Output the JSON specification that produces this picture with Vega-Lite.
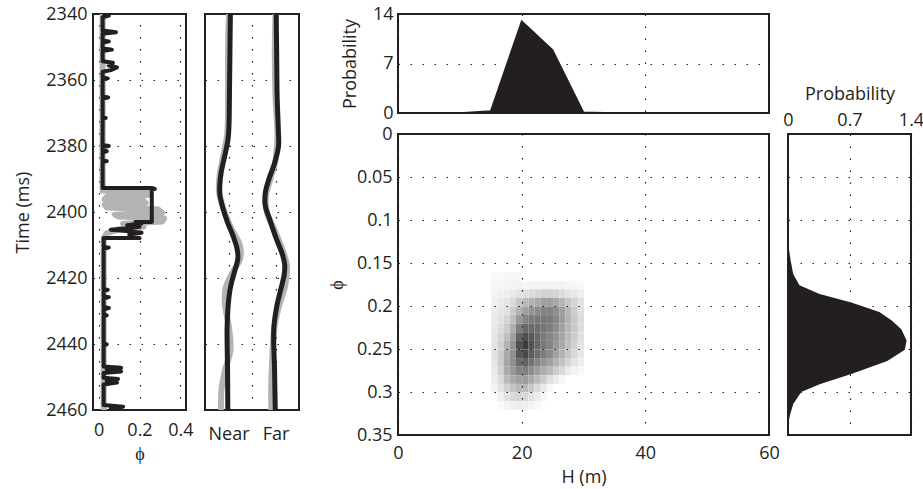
{
  "$schema": "https://vega.github.io/schema/vega-lite/v6.json",
  "padding": {"left": 13, "top": 4, "right": 14, "bottom": 0},
  "background": "white",
  "bounds": "flush",
  "spacing": 19,
  "config": {
    "font": "Open Sans",
    "view": {"stroke": "#231f20", "strokeWidth": 2},
    "axis": {
      "labelFont": "Open Sans", "labelFontSize": 18, "labelColor": "#231f20",
      "titleFont": "Open Sans", "titleFontSize": 18, "titleFontWeight": "normal", "titleColor": "#231f20",
      "domain": false, "ticks": false, "grid": true,
      "gridDash": [1.5, 10.5], "gridColor": "#231f20", "gridWidth": 1.2, "gridOpacity": 1,
      "labelFlush": false, "labelOverlap": false, "labelPadding": 6
    }
  },
  "hconcat": [
    {
      "width": 93, "height": 396,
      "layer": [
        {
          "data": {"values": [
            {"i":1,"t":2340,"phi":0.02},{"i":2,"t":2393.5,"phi":0.02},{"i":3,"t":2394,"phi":0.24},{"i":4,"t":2394.8,"phi":0.25},
            {"i":5,"t":2395.4,"phi":0.04},{"i":6,"t":2396.2,"phi":0.03},{"i":7,"t":2396.6,"phi":0.22},{"i":8,"t":2397.3,"phi":0.23},
            {"i":9,"t":2397.8,"phi":0.03},{"i":10,"t":2398.6,"phi":0.04},{"i":11,"t":2399.2,"phi":0.29},{"i":12,"t":2400.2,"phi":0.31},
            {"i":13,"t":2400.8,"phi":0.08},{"i":14,"t":2401.4,"phi":0.1},{"i":15,"t":2402,"phi":0.32},{"i":16,"t":2402.9,"phi":0.31},
            {"i":17,"t":2403.6,"phi":0.12},{"i":18,"t":2404.4,"phi":0.22},{"i":19,"t":2405.2,"phi":0.1},{"i":20,"t":2406.5,"phi":0.04},
            {"i":21,"t":2408,"phi":0.025},{"i":22,"t":2460,"phi":0.025}
          ]},
          "mark": {"type": "line", "color": "#b3b3b3", "strokeWidth": 6, "strokeJoin": "round", "clip": true},
          "encoding": {
            "x": {"field": "phi", "type": "quantitative", "scale": {"domain": [-0.027, 0.427], "nice": false, "zero": false},
                  "axis": {"values": [0, 0.2, 0.4], "format": "~g", "title": "ϕ", "labelPadding": 11, "titlePadding": 6}},
            "y": {"field": "t", "type": "quantitative", "scale": {"domain": [2340, 2460], "reverse": true, "nice": false, "zero": false},
                  "axis": {"values": [2340, 2360, 2380, 2400, 2420, 2440, 2460], "format": "d", "title": "Time (ms)", "titlePadding": 13, "labelPadding": 6}},
            "order": {"field": "i", "type": "quantitative"}
          }
        },
        {
          "data": {"values": [
            {"i":1,"t":2340,"phi":0.02},{"i":2,"t":2340.5,"phi":0.05},{"i":3,"t":2341,"phi":0.02},{"i":4,"t":2345,"phi":0.02},
            {"i":5,"t":2345.5,"phi":0.085},{"i":6,"t":2346,"phi":0.02},{"i":7,"t":2348,"phi":0.02},{"i":8,"t":2348.3,"phi":0.05},
            {"i":9,"t":2348.7,"phi":0.02},{"i":10,"t":2350.4,"phi":0.02},{"i":11,"t":2350.8,"phi":0.065},{"i":12,"t":2351.2,"phi":0.02},
            {"i":13,"t":2354.3,"phi":0.02},{"i":14,"t":2354.8,"phi":0.07},{"i":15,"t":2355.6,"phi":0.05},{"i":16,"t":2356.2,"phi":0.09},
            {"i":17,"t":2357,"phi":0.06},{"i":18,"t":2357.5,"phi":0.02},{"i":19,"t":2359.2,"phi":0.02},{"i":20,"t":2359.5,"phi":0.045},
            {"i":21,"t":2359.8,"phi":0.02},{"i":22,"t":2365,"phi":0.02},{"i":23,"t":2365.3,"phi":0.047},{"i":24,"t":2365.6,"phi":0.02},
            {"i":25,"t":2371.3,"phi":0.02},{"i":26,"t":2371.5,"phi":0.035},{"i":27,"t":2371.7,"phi":0.02},{"i":28,"t":2379.7,"phi":0.02},
            {"i":29,"t":2380,"phi":0.05},{"i":30,"t":2380.3,"phi":0.02},{"i":31,"t":2381.3,"phi":0.02},{"i":32,"t":2381.6,"phi":0.04},
            {"i":33,"t":2381.9,"phi":0.02},{"i":34,"t":2384.3,"phi":0.02},{"i":35,"t":2384.6,"phi":0.04},{"i":36,"t":2384.9,"phi":0.02},
            {"i":37,"t":2392.7,"phi":0.02},{"i":38,"t":2392.7,"phi":0.26},{"i":39,"t":2393,"phi":0.275},{"i":40,"t":2393.3,"phi":0.26},
            {"i":41,"t":2403,"phi":0.26},{"i":42,"t":2403,"phi":0.18},{"i":43,"t":2403.5,"phi":0.21},{"i":44,"t":2404,"phi":0.14},
            {"i":45,"t":2404.5,"phi":0.2},{"i":46,"t":2405,"phi":0.13},{"i":47,"t":2405.4,"phi":0.06},{"i":48,"t":2405.8,"phi":0.15},
            {"i":49,"t":2406.3,"phi":0.21},{"i":50,"t":2406.8,"phi":0.15},{"i":51,"t":2407.3,"phi":0.19},{"i":52,"t":2407.9,"phi":0.2},
            {"i":53,"t":2407.9,"phi":0.025},{"i":54,"t":2410.5,"phi":0.025},{"i":55,"t":2410.8,"phi":0.05},{"i":56,"t":2411.1,"phi":0.025},
            {"i":57,"t":2423.3,"phi":0.025},{"i":58,"t":2423.6,"phi":0.045},{"i":59,"t":2424,"phi":0.025},{"i":60,"t":2425.5,"phi":0.025},
            {"i":61,"t":2425.8,"phi":0.05},{"i":62,"t":2426.2,"phi":0.025},{"i":63,"t":2428.8,"phi":0.025},{"i":64,"t":2429.1,"phi":0.05},
            {"i":65,"t":2429.5,"phi":0.025},{"i":66,"t":2431,"phi":0.025},{"i":67,"t":2431.3,"phi":0.04},{"i":68,"t":2431.6,"phi":0.025},
            {"i":69,"t":2439.8,"phi":0.025},{"i":70,"t":2440.1,"phi":0.04},{"i":71,"t":2440.4,"phi":0.025},{"i":72,"t":2446.8,"phi":0.025},
            {"i":73,"t":2447.2,"phi":0.11},{"i":74,"t":2447.8,"phi":0.04},{"i":75,"t":2448.3,"phi":0.11},{"i":76,"t":2448.8,"phi":0.025},
            {"i":77,"t":2450.2,"phi":0.025},{"i":78,"t":2450.6,"phi":0.095},{"i":79,"t":2451.2,"phi":0.04},{"i":80,"t":2451.7,"phi":0.09},
            {"i":81,"t":2452.3,"phi":0.025},{"i":82,"t":2458.5,"phi":0.025},{"i":83,"t":2459,"phi":0.12},{"i":84,"t":2459.5,"phi":0.06},
            {"i":85,"t":2460,"phi":0.06}
          ]},
          "mark": {"type": "line", "color": "#231f20", "strokeWidth": 4, "strokeJoin": "round", "clip": true},
          "encoding": {
            "x": {"field": "phi", "type": "quantitative"},
            "y": {"field": "t", "type": "quantitative"},
            "order": {"field": "i", "type": "quantitative"}
          }
        }
      ]
    },
    {
      "width": 94, "height": 396,
      "data": {"values": [
        {"tr":"N","s":"g","t":2340,"x":1.02},{"tr":"N","s":"g","t":2352,"x":0.98},{"tr":"N","s":"g","t":2365,"x":0.98},{"tr":"N","s":"g","t":2376,"x":0.95},
        {"tr":"N","s":"g","t":2383,"x":0.78},{"tr":"N","s":"g","t":2389,"x":0.62},{"tr":"N","s":"g","t":2394,"x":0.6},{"tr":"N","s":"g","t":2399,"x":0.78},
        {"tr":"N","s":"g","t":2405,"x":1.12},{"tr":"N","s":"g","t":2410,"x":1.48},{"tr":"N","s":"g","t":2414,"x":1.5},{"tr":"N","s":"g","t":2418,"x":1.2},
        {"tr":"N","s":"g","t":2423,"x":0.88},{"tr":"N","s":"g","t":2428,"x":0.85},{"tr":"N","s":"g","t":2435,"x":1.02},{"tr":"N","s":"g","t":2442,"x":1.08},
        {"tr":"N","s":"g","t":2448,"x":0.85},{"tr":"N","s":"g","t":2454,"x":0.7},{"tr":"N","s":"g","t":2460,"x":0.68},
        {"tr":"F","s":"g","t":2340,"x":3.0},{"tr":"F","s":"g","t":2352,"x":2.97},{"tr":"F","s":"g","t":2365,"x":3.0},{"tr":"F","s":"g","t":2377,"x":3.08},
        {"tr":"F","s":"g","t":2385,"x":2.98},{"tr":"F","s":"g","t":2390,"x":2.78},{"tr":"F","s":"g","t":2395,"x":2.6},{"tr":"F","s":"g","t":2400,"x":2.63},
        {"tr":"F","s":"g","t":2405,"x":2.93},{"tr":"F","s":"g","t":2410,"x":3.22},{"tr":"F","s":"g","t":2416,"x":3.48},{"tr":"F","s":"g","t":2422,"x":3.42},
        {"tr":"F","s":"g","t":2428,"x":3.17},{"tr":"F","s":"g","t":2435,"x":2.95},{"tr":"F","s":"g","t":2445,"x":2.86},{"tr":"F","s":"g","t":2452,"x":2.82},
        {"tr":"F","s":"g","t":2460,"x":2.82},
        {"tr":"N","s":"b","t":2340,"x":1.08},{"tr":"N","s":"b","t":2352,"x":1.06},{"tr":"N","s":"b","t":2365,"x":1.04},{"tr":"N","s":"b","t":2374,"x":1.02},
        {"tr":"N","s":"b","t":2378,"x":0.98},{"tr":"N","s":"b","t":2383,"x":0.84},{"tr":"N","s":"b","t":2388,"x":0.69},{"tr":"N","s":"b","t":2392,"x":0.63},
        {"tr":"N","s":"b","t":2395,"x":0.64},{"tr":"N","s":"b","t":2399,"x":0.77},{"tr":"N","s":"b","t":2403,"x":0.95},{"tr":"N","s":"b","t":2407,"x":1.18},
        {"tr":"N","s":"b","t":2411,"x":1.36},{"tr":"N","s":"b","t":2414,"x":1.4},{"tr":"N","s":"b","t":2418,"x":1.26},{"tr":"N","s":"b","t":2423,"x":1.08},
        {"tr":"N","s":"b","t":2428,"x":0.99},{"tr":"N","s":"b","t":2435,"x":0.94},{"tr":"N","s":"b","t":2448,"x":0.96},{"tr":"N","s":"b","t":2460,"x":0.97},
        {"tr":"F","s":"b","t":2340,"x":3.03},{"tr":"F","s":"b","t":2352,"x":3.05},{"tr":"F","s":"b","t":2365,"x":3.07},{"tr":"F","s":"b","t":2375,"x":3.12},
        {"tr":"F","s":"b","t":2380,"x":3.13},{"tr":"F","s":"b","t":2385,"x":2.97},{"tr":"F","s":"b","t":2390,"x":2.72},{"tr":"F","s":"b","t":2394,"x":2.57},
        {"tr":"F","s":"b","t":2398,"x":2.56},{"tr":"F","s":"b","t":2402,"x":2.74},{"tr":"F","s":"b","t":2408,"x":3.03},{"tr":"F","s":"b","t":2413,"x":3.3},
        {"tr":"F","s":"b","t":2416,"x":3.39},{"tr":"F","s":"b","t":2419,"x":3.37},{"tr":"F","s":"b","t":2423,"x":3.24},{"tr":"F","s":"b","t":2428,"x":3.07},
        {"tr":"F","s":"b","t":2435,"x":2.93},{"tr":"F","s":"b","t":2448,"x":2.96},{"tr":"F","s":"b","t":2460,"x":2.99}
      ]},
      "layer": [
        {
          "transform": [{"filter": "datum.s == 'g'"}],
          "mark": {"type": "line", "color": "#b3b3b3", "strokeWidth": 6, "interpolate": "catmull-rom", "clip": true},
          "encoding": {
            "x": {"field": "x", "type": "quantitative", "scale": {"domain": [0, 4], "nice": false, "zero": false},
                  "axis": {"values": [1, 2, 3], "labelExpr": "datum.value == 1 ? 'Near' : (datum.value == 3 ? 'Far' : '')", "title": null, "labelPadding": 15}},
            "y": {"field": "t", "type": "quantitative", "scale": {"domain": [2340, 2460], "reverse": true, "nice": false, "zero": false},
                  "axis": {"values": [2340, 2360, 2380, 2400, 2420, 2440, 2460], "labels": false, "title": null}},
            "detail": {"field": "tr", "type": "nominal"},
            "order": {"field": "t", "type": "quantitative"}
          }
        },
        {
          "transform": [{"filter": "datum.s == 'b'"}],
          "mark": {"type": "line", "color": "#231f20", "strokeWidth": 5, "interpolate": "catmull-rom", "clip": true},
          "encoding": {
            "x": {"field": "x", "type": "quantitative"},
            "y": {"field": "t", "type": "quantitative"},
            "detail": {"field": "tr", "type": "nominal"},
            "order": {"field": "t", "type": "quantitative"}
          }
        }
      ]
    },
    {
      "width": 61, "height": 10,
      "view": {"stroke": null},
      "data": {"values": []},
      "mark": "point"
    },
    {
      "bounds": "flush",
      "spacing": 21,
      "vconcat": [
        {
          "width": 371, "height": 99,
          "data": {"values": [
            {"H":0,"P":0},{"H":5,"P":0},{"H":10,"P":0},{"H":15,"P":0.3},{"H":20,"P":13},{"H":25,"P":8.9},{"H":30,"P":0.1},
            {"H":35,"P":0},{"H":40,"P":0},{"H":45,"P":0},{"H":50,"P":0},{"H":55,"P":0},{"H":60,"P":0}
          ]},
          "mark": {"type": "area", "fill": "#231f20", "opacity": 1, "stroke": "#231f20", "strokeWidth": 1.5},
          "encoding": {
            "x": {"field": "H", "type": "quantitative", "scale": {"domain": [0, 60], "nice": false},
                  "axis": {"values": [0, 20, 40, 60], "labels": false, "title": null}},
            "y": {"field": "P", "type": "quantitative", "scale": {"domain": [0, 14], "nice": false},
                  "axis": {"values": [0, 7, 14], "title": "Probability", "titlePadding": 13, "labelPadding": 5}}
          }
        },
        {
          "bounds": "flush",
          "spacing": 19,
          "hconcat": [
            {
              "width": 371, "height": 301,
              "data": {"values": [
                {"H":15,"p":0.16,"d":3},{"H":16,"p":0.16,"d":3},{"H":17,"p":0.16,"d":3},{"H":18,"p":0.16,"d":3},{"H":19,"p":0.16,"d":3},
                {"H":15,"p":0.17,"d":4},{"H":16,"p":0.17,"d":4},{"H":17,"p":0.17,"d":5},{"H":18,"p":0.17,"d":5},{"H":19,"p":0.17,"d":5},
                {"H":20,"p":0.17,"d":4},{"H":21,"p":0.17,"d":5},{"H":22,"p":0.17,"d":5},{"H":23,"p":0.17,"d":5},{"H":24,"p":0.17,"d":5},
                {"H":25,"p":0.17,"d":5},{"H":26,"p":0.17,"d":5},{"H":27,"p":0.17,"d":4},{"H":28,"p":0.17,"d":4},{"H":29,"p":0.17,"d":3},
                {"H":15,"p":0.18,"d":5},{"H":16,"p":0.18,"d":6},{"H":17,"p":0.18,"d":7},{"H":18,"p":0.18,"d":9},{"H":19,"p":0.18,"d":12},
                {"H":20,"p":0.18,"d":14},{"H":21,"p":0.18,"d":16},{"H":22,"p":0.18,"d":18},{"H":23,"p":0.18,"d":20},{"H":24,"p":0.18,"d":20},
                {"H":25,"p":0.18,"d":18},{"H":26,"p":0.18,"d":15},{"H":27,"p":0.18,"d":12},{"H":28,"p":0.18,"d":10},{"H":29,"p":0.18,"d":7},
                {"H":15,"p":0.19,"d":7},{"H":16,"p":0.19,"d":9},{"H":17,"p":0.19,"d":11},{"H":18,"p":0.19,"d":16},{"H":19,"p":0.19,"d":24},
                {"H":20,"p":0.19,"d":30},{"H":21,"p":0.19,"d":34},{"H":22,"p":0.19,"d":38},{"H":23,"p":0.19,"d":42},{"H":24,"p":0.19,"d":42},
                {"H":25,"p":0.19,"d":38},{"H":26,"p":0.19,"d":32},{"H":27,"p":0.19,"d":25},{"H":28,"p":0.19,"d":18},{"H":29,"p":0.19,"d":12},
                {"H":15,"p":0.2,"d":8},{"H":16,"p":0.2,"d":11},{"H":17,"p":0.2,"d":14},{"H":18,"p":0.2,"d":22},{"H":19,"p":0.2,"d":34},
                {"H":20,"p":0.2,"d":42},{"H":21,"p":0.2,"d":48},{"H":22,"p":0.2,"d":52},{"H":23,"p":0.2,"d":56},{"H":24,"p":0.2,"d":56},
                {"H":25,"p":0.2,"d":50},{"H":26,"p":0.2,"d":42},{"H":27,"p":0.2,"d":32},{"H":28,"p":0.2,"d":22},{"H":29,"p":0.2,"d":14},
                {"H":15,"p":0.21,"d":9},{"H":16,"p":0.21,"d":13},{"H":17,"p":0.21,"d":18},{"H":18,"p":0.21,"d":28},{"H":19,"p":0.21,"d":45},
                {"H":20,"p":0.21,"d":55},{"H":21,"p":0.21,"d":60},{"H":22,"p":0.21,"d":62},{"H":23,"p":0.21,"d":62},{"H":24,"p":0.21,"d":60},
                {"H":25,"p":0.21,"d":54},{"H":26,"p":0.21,"d":44},{"H":27,"p":0.21,"d":34},{"H":28,"p":0.21,"d":24},{"H":29,"p":0.21,"d":15},
                {"H":15,"p":0.22,"d":10},{"H":16,"p":0.22,"d":15},{"H":17,"p":0.22,"d":22},{"H":18,"p":0.22,"d":35},{"H":19,"p":0.22,"d":58},
                {"H":20,"p":0.22,"d":68},{"H":21,"p":0.22,"d":68},{"H":22,"p":0.22,"d":66},{"H":23,"p":0.22,"d":62},{"H":24,"p":0.22,"d":58},
                {"H":25,"p":0.22,"d":52},{"H":26,"p":0.22,"d":42},{"H":27,"p":0.22,"d":32},{"H":28,"p":0.22,"d":24},{"H":29,"p":0.22,"d":14},
                {"H":15,"p":0.23,"d":11},{"H":16,"p":0.23,"d":18},{"H":17,"p":0.23,"d":28},{"H":18,"p":0.23,"d":42},{"H":19,"p":0.23,"d":72},
                {"H":20,"p":0.23,"d":82},{"H":21,"p":0.23,"d":76},{"H":22,"p":0.23,"d":68},{"H":23,"p":0.23,"d":60},{"H":24,"p":0.23,"d":55},
                {"H":25,"p":0.23,"d":48},{"H":26,"p":0.23,"d":40},{"H":27,"p":0.23,"d":30},{"H":28,"p":0.23,"d":22},{"H":29,"p":0.23,"d":13},
                {"H":15,"p":0.24,"d":12},{"H":16,"p":0.24,"d":20},{"H":17,"p":0.24,"d":34},{"H":18,"p":0.24,"d":48},{"H":19,"p":0.24,"d":82},
                {"H":20,"p":0.24,"d":92},{"H":21,"p":0.24,"d":80},{"H":22,"p":0.24,"d":70},{"H":23,"p":0.24,"d":60},{"H":24,"p":0.24,"d":55},
                {"H":25,"p":0.24,"d":46},{"H":26,"p":0.24,"d":38},{"H":27,"p":0.24,"d":28},{"H":28,"p":0.24,"d":20},{"H":29,"p":0.24,"d":12},
                {"H":15,"p":0.25,"d":12},{"H":16,"p":0.25,"d":22},{"H":17,"p":0.25,"d":38},{"H":18,"p":0.25,"d":50},{"H":19,"p":0.25,"d":78},
                {"H":20,"p":0.25,"d":85},{"H":21,"p":0.25,"d":74},{"H":22,"p":0.25,"d":66},{"H":23,"p":0.25,"d":58},{"H":24,"p":0.25,"d":52},
                {"H":25,"p":0.25,"d":42},{"H":26,"p":0.25,"d":34},{"H":27,"p":0.25,"d":25},{"H":28,"p":0.25,"d":17},{"H":29,"p":0.25,"d":10},
                {"H":15,"p":0.26,"d":11},{"H":16,"p":0.26,"d":22},{"H":17,"p":0.26,"d":40},{"H":18,"p":0.26,"d":50},{"H":19,"p":0.26,"d":68},
                {"H":20,"p":0.26,"d":72},{"H":21,"p":0.26,"d":64},{"H":22,"p":0.26,"d":56},{"H":23,"p":0.26,"d":48},{"H":24,"p":0.26,"d":42},
                {"H":25,"p":0.26,"d":34},{"H":26,"p":0.26,"d":26},{"H":27,"p":0.26,"d":18},{"H":28,"p":0.26,"d":12},{"H":29,"p":0.26,"d":7},
                {"H":15,"p":0.27,"d":10},{"H":16,"p":0.27,"d":20},{"H":17,"p":0.27,"d":38},{"H":18,"p":0.27,"d":46},{"H":19,"p":0.27,"d":56},
                {"H":20,"p":0.27,"d":58},{"H":21,"p":0.27,"d":52},{"H":22,"p":0.27,"d":44},{"H":23,"p":0.27,"d":36},{"H":24,"p":0.27,"d":30},
                {"H":25,"p":0.27,"d":22},{"H":26,"p":0.27,"d":16},{"H":27,"p":0.27,"d":8},{"H":28,"p":0.27,"d":5},{"H":29,"p":0.27,"d":3},
                {"H":15,"p":0.28,"d":8},{"H":16,"p":0.28,"d":16},{"H":17,"p":0.28,"d":30},{"H":18,"p":0.28,"d":38},{"H":19,"p":0.28,"d":42},
                {"H":20,"p":0.28,"d":44},{"H":21,"p":0.28,"d":38},{"H":22,"p":0.28,"d":30},{"H":23,"p":0.28,"d":22},{"H":24,"p":0.28,"d":14},
                {"H":25,"p":0.28,"d":8},{"H":26,"p":0.28,"d":3},
                {"H":15,"p":0.29,"d":5},{"H":16,"p":0.29,"d":11},{"H":17,"p":0.29,"d":20},{"H":18,"p":0.29,"d":26},{"H":19,"p":0.29,"d":30},
                {"H":20,"p":0.29,"d":30},{"H":21,"p":0.29,"d":24},{"H":22,"p":0.29,"d":16},{"H":23,"p":0.29,"d":9},{"H":24,"p":0.29,"d":3},
                {"H":16,"p":0.3,"d":6},{"H":17,"p":0.3,"d":12},{"H":18,"p":0.3,"d":16},{"H":19,"p":0.3,"d":18},{"H":20,"p":0.3,"d":17},
                {"H":21,"p":0.3,"d":13},{"H":22,"p":0.3,"d":8},{"H":23,"p":0.3,"d":3},
                {"H":16,"p":0.31,"d":2},{"H":17,"p":0.31,"d":5},{"H":18,"p":0.31,"d":7},{"H":19,"p":0.31,"d":8},{"H":20,"p":0.31,"d":7},
                {"H":21,"p":0.31,"d":5},{"H":22,"p":0.31,"d":3}
              ]},
              "mark": {"type": "rect", "strokeWidth": 0},
              "encoding": {
                "x": {"field": "H", "type": "quantitative", "bin": {"binned": true, "step": 1}, "scale": {"domain": [0, 60], "nice": false},
                      "axis": {"values": [0, 20, 40, 60], "format": "~g", "title": "H (m)", "labelPadding": 9, "titlePadding": 6, "zindex": 1}},
                "y": {"field": "p", "type": "quantitative", "bin": {"binned": true, "step": 0.01}, "scale": {"domain": [0, 0.35], "reverse": true, "nice": false, "zero": false},
                      "axis": {"values": [0, 0.05, 0.1, 0.15, 0.2, 0.25, 0.3, 0.35], "format": "~g", "title": "ϕ", "labelPadding": 6, "titlePadding": 10, "zindex": 1}},
                "color": {"field": "d", "type": "quantitative", "scale": {"domain": [0, 100], "range": ["#ffffff", "#2e2e2e"]}, "legend": null}
              }
            },
            {
              "width": 123, "height": 301,
              "data": {"values": [
                {"phi":0,"P":0},{"phi":0.1,"P":0},{"phi":0.13,"P":0.005},{"phi":0.147,"P":0.03},{"phi":0.163,"P":0.06},
                {"phi":0.176,"P":0.13},{"phi":0.186,"P":0.36},{"phi":0.196,"P":0.72},{"phi":0.207,"P":1.04},{"phi":0.217,"P":1.18},
                {"phi":0.227,"P":1.29},{"phi":0.24,"P":1.35},{"phi":0.251,"P":1.33},{"phi":0.264,"P":1.13},{"phi":0.279,"P":0.72},
                {"phi":0.291,"P":0.36},{"phi":0.3,"P":0.15},{"phi":0.314,"P":0.06},{"phi":0.324,"P":0.03},{"phi":0.335,"P":0.005},{"phi":0.35,"P":0}
              ]},
              "mark": {"type": "area", "orient": "horizontal", "fill": "#231f20", "opacity": 1},
              "encoding": {
                "x": {"field": "P", "type": "quantitative", "scale": {"domain": [0, 1.4], "nice": false},
                      "axis": {"orient": "top", "values": [0, 0.7, 1.4], "labelExpr": "datum.value > 1 ? '1.4' : (datum.value > 0.5 ? '0.7' : '0')", "title": "Probability", "labelPadding": 5, "titlePadding": 8}},
                "y": {"field": "phi", "type": "quantitative", "scale": {"domain": [0, 0.35], "reverse": true, "nice": false, "zero": false},
                      "axis": {"values": [0, 0.05, 0.1, 0.15, 0.2, 0.25, 0.3, 0.35], "labels": false, "title": null}}
              }
            }
          ]
        }
      ]
    }
  ]
}
